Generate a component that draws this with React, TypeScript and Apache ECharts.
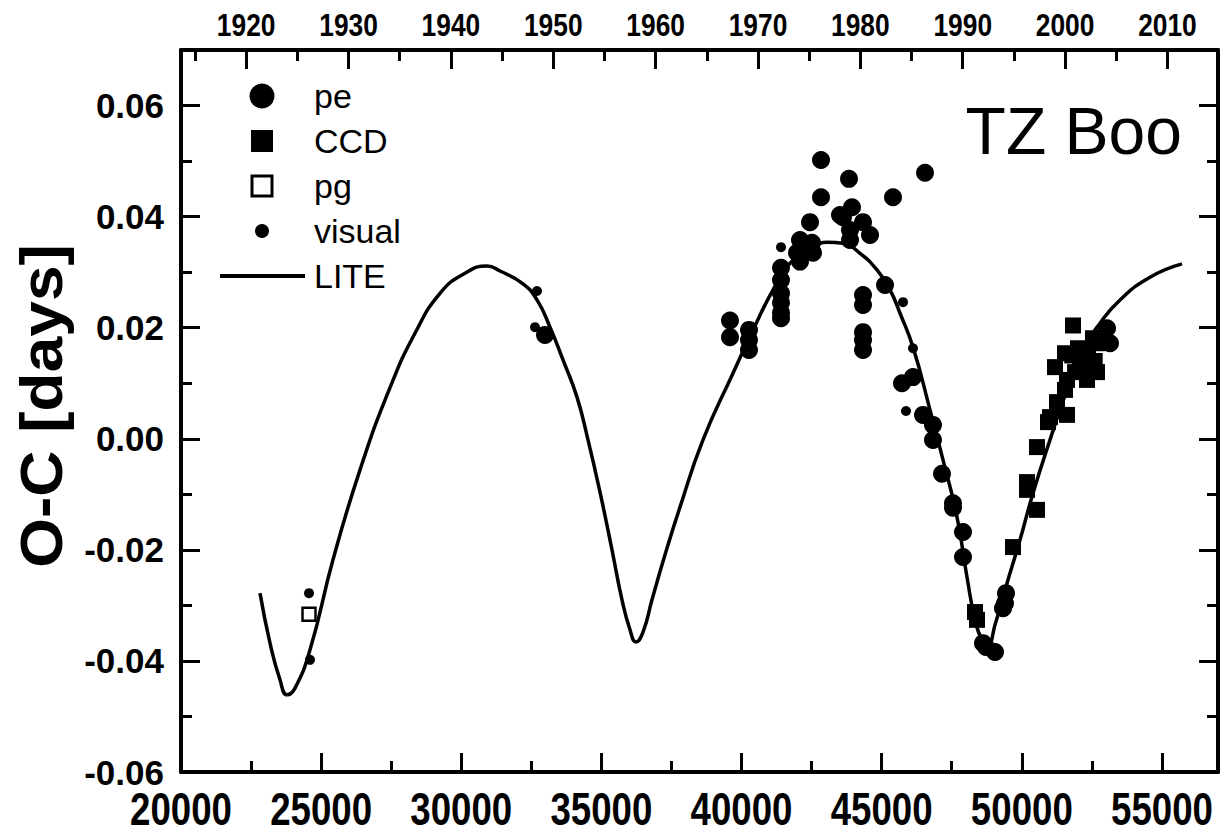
import React, { useEffect, useRef } from "react";
import * as echarts from "echarts";

// ---- axis ticks ----
const jdTicks = [20000, 25000, 30000, 35000, 40000, 45000, 50000, 55000];
const jdMinorTicks = [22500, 27500, 32500, 37500, 42500, 47500, 52500];
const yearTicks = [1920, 1930, 1940, 1950, 1960, 1970, 1980, 1990, 2000, 2010];
const yearMinorTicks = [1915, 1925, 1935, 1945, 1955, 1965, 1975, 1985, 1995, 2005];
const ocTicks = [-0.06, -0.04, -0.02, 0, 0.02, 0.04, 0.06];
const ocMinorTicks = [-0.05, -0.03, -0.01, 0.01, 0.03, 0.05];

const legendLabels = ["pe", "CCD", "pg", "visual", "LITE"];
const starName = "TZ Boo";
const yTitle = "O-C [days]";

// ---- data: [HJD-2400000, O-C days] ----
const peData = [
  [32988, 0.0187],
  [39588, 0.0213], [39588, 0.0183],
  [40266, 0.0196], [40266, 0.0178], [40266, 0.016],
  [41408, 0.0308], [41408, 0.0286], [41408, 0.0262], [41408, 0.0245], [41408, 0.0227], [41408, 0.0217],
  [41979, 0.0335], [42086, 0.0358], [42086, 0.0319], [42264, 0.034], [42443, 0.039], [42514, 0.0353], [42550, 0.0335],
  [42835, 0.0502], [42835, 0.0435],
  [43513, 0.0403], [43620, 0.0399], [43834, 0.0468], [43941, 0.0417], [43870, 0.0376], [43870, 0.0358], [44334, 0.039], [44584, 0.0367],
  [44334, 0.0259], [44334, 0.0241], [44334, 0.0192], [44334, 0.0178], [44334, 0.016],
  [45119, 0.0277], [45404, 0.0435], [46546, 0.0479],
  [45725, 0.01], [46118, 0.0111], [46475, 0.0043], [46831, 0.0025], [46831, -0.0002],
  [47152, -0.0063], [47545, -0.0116], [47545, -0.0124], [47902, -0.0168], [47902, -0.0213],
  [48615, -0.0368], [48722, -0.0375], [49044, -0.0384],
  [49329, -0.0305], [49400, -0.0296], [49436, -0.0278],
  [52790, 0.0181], [53040, 0.0199], [53147, 0.0172],
];

const ccdData = [
  [48330, -0.0312], [48401, -0.0326],
  [49686, -0.0195],
  [50185, -0.0092], [50185, -0.0078], [50542, -0.0128], [50542, -0.0015],
  [50935, 0.003], [51006, 0.0039], [51256, 0.0066], [51541, 0.0088], [51612, 0.0043], [51612, 0.0106],
  [51184, 0.0129], [51541, 0.0154], [51827, 0.0204], [51800, 0.015], [51900, 0.012],
  [52005, 0.0163], [52076, 0.0137], [52200, 0.0145], [52326, 0.0106], [52362, 0.0154], [52400, 0.013],
  [52540, 0.0181], [52600, 0.014], [52683, 0.012], [52683, 0.0172],
];

const pgData = [[24567, -0.0316]];

const visualData = [
  [24567, -0.0278], [24603, -0.0398],
  [32631, 0.0201], [32702, 0.0266],
  [41408, 0.0345],
  [45761, 0.0246], [45868, 0.005], [46118, 0.0163],
];

const liteCurve = [
  [22819, -0.0278], [23176, -0.0368], [23532, -0.0434], [23782, -0.0461], [24068, -0.0449],
  [24603, -0.038], [25423, -0.0218], [26387, -0.0056], [27457, 0.0092], [28349, 0.019],
  [29241, 0.0262], [30133, 0.0298], [30918, 0.0311], [31382, 0.0302], [32203, 0.0279],
  [32702, 0.025], [33166, 0.0201], [33630, 0.0142], [34129, 0.0075], [34522, -0.0002],
  [34950, -0.0096], [35378, -0.02], [35735, -0.029], [36020, -0.0344], [36234, -0.0366],
  [36484, -0.0348], [36805, -0.029], [37269, -0.0209], [37804, -0.0123], [38625, -0.0002],
  [39695, 0.0118], [40409, 0.0196], [41123, 0.0268], [41729, 0.0316], [42443, 0.034],
  [43049, 0.0354], [43620, 0.0352], [44227, 0.0334], [44833, 0.0304], [45297, 0.0268],
  [45654, 0.0226], [46118, 0.0165], [46724, 0.0052], [47188, -0.0038], [47688, -0.0141],
  [48044, -0.0249], [48330, -0.0326], [48580, -0.0362], [48794, -0.037], [49044, -0.0335],
  [49472, -0.026], [49936, -0.0182], [50399, -0.0098], [51006, -0.0002], [51612, 0.0088],
  [52183, 0.016], [52790, 0.0208], [53504, 0.025], [54574, 0.0291], [55716, 0.0315],
];

// axis ranges
const jdMin = 20000;
const jdMax = 57000;
const ocMin = -0.06;
const ocMax = 0.07;
const jdToYear = (jd: number) => 2000 + (jd + 2400000 - 2451545) / 365.25;

const SANS = "'Liberation Sans', Arial, sans-serif";

export default function App() {
  const ref = useRef<HTMLDivElement>(null);

  useEffect(() => {
    if (!ref.current) return;
    const chart = echarts.init(ref.current, undefined, { renderer: "svg" });

    const frameLine = { show: true, onZero: false, lineStyle: { color: "#000", width: 4 } };
    const noLine = { show: false, onZero: false };
    const majorTick = (vals: number[]) => ({
      show: true, inside: true, length: 19, customValues: vals,
      lineStyle: { color: "#000", width: 3 },
    });
    const minorTick = (vals: number[]) => ({
      show: true, inside: true, length: 11, customValues: vals,
      lineStyle: { color: "#000", width: 3 },
    });

    const legendRows = [96, 141, 186, 231, 276];
    const black = { color: "#000", opacity: 1 };

    const option: any = {
      animation: false,
      backgroundColor: "#fff",
      grid: { left: 181, right: 11, top: 50, bottom: 64, containLabel: false },
      xAxis: [
        {
          type: "value", position: "bottom", min: jdMin, max: jdMax,
          axisLine: frameLine, axisTick: majorTick(jdTicks),
          axisLabel: { show: false }, splitLine: { show: false },
        },
        {
          type: "value", position: "bottom", min: jdMin, max: jdMax,
          axisLine: noLine, axisTick: minorTick(jdMinorTicks),
          axisLabel: { show: false }, splitLine: { show: false },
        },
        {
          type: "value", position: "top", min: jdToYear(jdMin), max: jdToYear(jdMax),
          axisLine: frameLine, axisTick: majorTick(yearTicks),
          axisLabel: { show: false }, splitLine: { show: false },
        },
        {
          type: "value", position: "top", min: jdToYear(jdMin), max: jdToYear(jdMax),
          axisLine: noLine, axisTick: minorTick(yearMinorTicks),
          axisLabel: { show: false }, splitLine: { show: false },
        },
      ],
      yAxis: [
        {
          type: "value", position: "left", min: ocMin, max: ocMax,
          axisLine: frameLine, axisTick: majorTick(ocTicks),
          axisLabel: {
            customValues: ocTicks, margin: 17, color: "#000",
            fontFamily: SANS, fontWeight: "bold", fontSize: 35,
            formatter: (v: number) => v.toFixed(2),
          },
          splitLine: { show: false },
        },
        {
          type: "value", position: "left", min: ocMin, max: ocMax,
          axisLine: noLine, axisTick: minorTick(ocMinorTicks),
          axisLabel: { show: false }, splitLine: { show: false },
        },
        {
          type: "value", position: "right", min: ocMin, max: ocMax,
          axisLine: frameLine, axisTick: majorTick(ocTicks),
          axisLabel: { show: false }, splitLine: { show: false },
        },
        {
          type: "value", position: "right", min: ocMin, max: ocMax,
          axisLine: noLine, axisTick: minorTick(ocMinorTicks),
          axisLabel: { show: false }, splitLine: { show: false },
        },
      ],
      series: [
        {
          name: "LITE", type: "line", xAxisIndex: 0, yAxisIndex: 0,
          data: liteCurve, showSymbol: false, smooth: 0.5,
          lineStyle: { color: "#000", width: 3.5, opacity: 1 }, z: 2,
        },
        {
          name: "pe", type: "scatter", xAxisIndex: 0, yAxisIndex: 0,
          data: peData, symbol: "circle", symbolSize: 18,
          itemStyle: black, z: 3,
        },
        {
          name: "CCD", type: "scatter", xAxisIndex: 0, yAxisIndex: 0,
          data: ccdData, symbol: "rect", symbolSize: 16,
          itemStyle: black, z: 3,
        },
        {
          name: "pg", type: "scatter", xAxisIndex: 0, yAxisIndex: 0,
          data: pgData, symbol: "rect", symbolSize: 13,
          itemStyle: { color: "#fff", borderColor: "#000", borderWidth: 2.5, opacity: 1 }, z: 3,
        },
        {
          name: "visual", type: "scatter", xAxisIndex: 0, yAxisIndex: 0,
          data: visualData, symbol: "circle", symbolSize: 10,
          itemStyle: black, z: 3,
        },
      ],
    };

    chart.setOption(option);

    // Condensed bold tick labels on the bottom (HJD) and top (year) axes,
    // placed with the axes' own scales.
    const bottomLabels = jdTicks.map((v) => ({
      type: "text",
      x: chart.convertToPixel({ xAxisIndex: 0 }, v) as number,
      y: 809,
      scaleX: 0.78,
      style: {
        text: String(v), fill: "#000", font: `bold 47px ${SANS}`,
        align: "center", verticalAlign: "middle", textAlign: "center", textVerticalAlign: "middle",
      },
    }));
    const topLabels = yearTicks.map((v) => ({
      type: "text",
      x: chart.convertToPixel({ xAxisIndex: 2 }, v) as number,
      y: 25,
      scaleX: 0.85,
      style: {
        text: String(v), fill: "#000", font: `bold 31px ${SANS}`,
        align: "center", verticalAlign: "middle", textAlign: "center", textVerticalAlign: "middle",
      },
    }));

    const graphic: any[] = [
      ...bottomLabels,
      ...topLabels,
      { type: "circle", shape: { cx: 262, cy: legendRows[0], r: 12.5 }, style: { fill: "#000" } },
      { type: "rect", shape: { x: 251, y: legendRows[1] - 11, width: 22, height: 22 }, style: { fill: "#000" } },
      { type: "rect", shape: { x: 252, y: legendRows[2] - 10, width: 20, height: 20 }, style: { fill: "#fff", stroke: "#000", lineWidth: 3 } },
      { type: "circle", shape: { cx: 262, cy: legendRows[3], r: 7 }, style: { fill: "#000" } },
      { type: "line", shape: { x1: 220, y1: legendRows[4], x2: 305, y2: legendRows[4] }, style: { stroke: "#000", lineWidth: 4 } },
      ...legendLabels.map((t, i) => ({
        type: "text", x: 314, y: legendRows[i],
        style: {
          text: t, fill: "#000", font: `34px ${SANS}`,
          align: "left", verticalAlign: "middle", textAlign: "left", textVerticalAlign: "middle",
        },
      })),
      {
        type: "text", x: 1182, y: 131,
        style: {
          text: starName, fill: "#000", font: `66px ${SANS}`,
          align: "right", verticalAlign: "middle", textAlign: "right", textVerticalAlign: "middle",
        },
      },
      {
        type: "text", x: 41, y: 406, rotation: Math.PI / 2, scaleY: 0.92,
        style: {
          text: yTitle, fill: "#000", font: `bold 64px ${SANS}`,
          align: "center", verticalAlign: "middle", textAlign: "center", textVerticalAlign: "middle",
        },
      },
    ];

    chart.setOption({ graphic });
    return () => chart.dispose();
  }, []);

  return (
    <div
      ref={ref}
      style={{ position: "fixed", left: 0, top: 0, width: 1229, height: 836, background: "#fff" }}
    />
  );
}
